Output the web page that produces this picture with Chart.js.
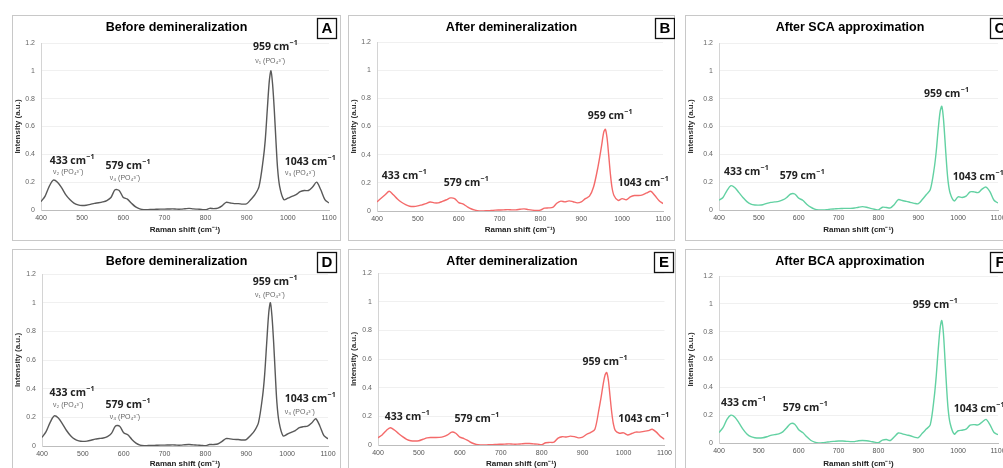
<!DOCTYPE html>
<html>
<head>
<meta charset="utf-8">
<script src="https://cdn.jsdelivr.net/npm/chart.js@4.4.1/dist/chart.umd.min.js"></script>
<style>
  body { margin: 0; background: #fff; width: 1003px; height: 468px; overflow: hidden; position: relative; }
  .panel { position: absolute; }
  .panel canvas { display: block; }
</style>
</head>
<body>
<div class="panel" id="pA"></div>
<div class="panel" id="pB"></div>
<div class="panel" id="pC"></div>
<div class="panel" id="pD"></div>
<div class="panel" id="pE"></div>
<div class="panel" id="pF"></div>
<script>
// Raman shift (cm-1), shared by every spectrum
const shift = [400,410,420,430,440,450,460,470,480,490,500,510,520,530,540,550,560,570,580,590,600,610,620,630,640,650,660,670,680,690,700,710,720,730,740,750,760,770,780,790,800,810,820,830,840,850,860,870,880,890,900,910,920,930,940,945,950,955,959,963,967,971,975,980,990,1000,1010,1020,1030,1040,1050,1060,1070,1080,1090,1100];

// A - before demineralization
const beforeA = [0.060,0.100,0.170,0.215,0.200,0.160,0.110,0.075,0.050,0.037,0.032,0.034,0.040,0.048,0.052,0.058,0.068,0.090,0.145,0.140,0.090,0.078,0.048,0.022,0.008,0.002,0.003,0.004,0.005,0.006,0.006,0.007,0.008,0.006,0.006,0.009,0.012,0.008,0.006,0.004,0.002,0.012,0.010,0.014,0.030,0.055,0.050,0.046,0.046,0.042,0.045,0.075,0.110,0.170,0.360,0.500,0.720,0.930,1.000,0.900,0.720,0.500,0.300,0.170,0.075,0.085,0.098,0.110,0.132,0.140,0.140,0.165,0.200,0.145,0.075,0.050];
// B - after demineralization
const afterB = [0.065,0.090,0.115,0.140,0.115,0.085,0.062,0.045,0.034,0.032,0.036,0.044,0.052,0.064,0.058,0.058,0.068,0.080,0.093,0.088,0.060,0.050,0.032,0.016,0.006,0.000,0.000,0.002,0.004,0.006,0.007,0.008,0.010,0.008,0.008,0.012,0.015,0.010,0.006,0.004,0.006,0.020,0.022,0.025,0.055,0.070,0.065,0.072,0.066,0.058,0.065,0.088,0.105,0.170,0.300,0.380,0.470,0.560,0.580,0.520,0.400,0.270,0.170,0.110,0.075,0.088,0.080,0.100,0.110,0.110,0.115,0.128,0.140,0.110,0.075,0.052];
// C - after SCA approximation
const scaC = [0.070,0.090,0.140,0.175,0.160,0.125,0.090,0.060,0.042,0.036,0.035,0.038,0.048,0.055,0.058,0.062,0.072,0.090,0.115,0.115,0.085,0.070,0.042,0.020,0.006,0.000,0.001,0.003,0.006,0.008,0.010,0.011,0.012,0.012,0.014,0.020,0.024,0.020,0.012,0.005,0.000,0.020,0.018,0.015,0.040,0.075,0.068,0.062,0.055,0.048,0.045,0.075,0.110,0.145,0.300,0.420,0.580,0.710,0.745,0.660,0.500,0.330,0.200,0.120,0.065,0.095,0.090,0.100,0.130,0.130,0.125,0.150,0.165,0.130,0.070,0.050];
// D - before demineralization
const beforeD = [0.060,0.100,0.165,0.210,0.195,0.155,0.108,0.072,0.048,0.036,0.032,0.034,0.040,0.048,0.052,0.056,0.066,0.088,0.140,0.138,0.092,0.078,0.046,0.020,0.006,0.002,0.003,0.004,0.005,0.006,0.006,0.007,0.008,0.006,0.006,0.009,0.010,0.008,0.006,0.004,0.002,0.010,0.010,0.014,0.030,0.052,0.050,0.046,0.045,0.042,0.045,0.072,0.105,0.165,0.350,0.500,0.720,0.930,1.000,0.900,0.720,0.500,0.300,0.170,0.070,0.082,0.095,0.108,0.128,0.135,0.138,0.160,0.190,0.140,0.072,0.050];
// E - after demineralization
const afterE = [0.050,0.070,0.100,0.120,0.105,0.080,0.058,0.040,0.030,0.028,0.030,0.040,0.050,0.052,0.052,0.053,0.058,0.070,0.090,0.082,0.055,0.045,0.030,0.014,0.004,0.000,0.000,0.002,0.002,0.004,0.005,0.006,0.008,0.006,0.006,0.008,0.010,0.010,0.008,0.006,0.002,0.016,0.018,0.020,0.048,0.058,0.056,0.062,0.058,0.050,0.055,0.075,0.088,0.110,0.250,0.330,0.420,0.490,0.505,0.450,0.340,0.230,0.150,0.100,0.082,0.085,0.070,0.080,0.090,0.090,0.095,0.100,0.110,0.090,0.060,0.040];
// F - after BCA approximation
const bcaF = [0.075,0.110,0.170,0.200,0.185,0.145,0.100,0.065,0.045,0.038,0.036,0.038,0.045,0.055,0.060,0.066,0.080,0.110,0.140,0.135,0.095,0.075,0.045,0.020,0.006,0.000,0.002,0.006,0.010,0.012,0.014,0.014,0.012,0.010,0.010,0.016,0.018,0.016,0.012,0.006,0.002,0.020,0.025,0.018,0.045,0.072,0.066,0.058,0.052,0.042,0.038,0.070,0.100,0.130,0.330,0.480,0.670,0.830,0.880,0.790,0.600,0.400,0.240,0.140,0.064,0.088,0.092,0.100,0.128,0.132,0.130,0.150,0.170,0.130,0.075,0.060];

const peakNames = ['433', '579', '959', '1043'];
const bandNames = ['\u03bd\u2082 (PO\u2084\u00b3\u207b)', '\u03bd\u2084 (PO\u2084\u00b3\u207b)', '\u03bd\u2081 (PO\u2084\u00b3\u207b)', '\u03bd\u2083 (PO\u2084\u00b3\u207b)'];

const decor = {
  id: 'decor',
  afterDraw(chart, args, o) {
    const ctx = chart.ctx;
    const w = chart.width, h = chart.height;
    const sx = chart.scales.x, sy = chart.scales.y;
    ctx.save();
    // frame
    ctx.strokeStyle = '#c8c8c8';
    ctx.lineWidth = 1;
    ctx.strokeRect(0.5, 0.5, w - 1, h - 1);
    // title
    ctx.fillStyle = '#000';
    ctx.textAlign = 'center';
    ctx.textBaseline = 'middle';
    ctx.font = 'bold 12.5px "Liberation Sans", Arial, sans-serif';
    ctx.fillText(o.title, w / 2, 13);
    // letter
    ctx.fillStyle = '#fff';
    ctx.fillRect(o.letterX, 3, 19, 20);
    ctx.strokeStyle = '#111';
    ctx.lineWidth = 1.3;
    ctx.strokeRect(o.letterX + 0.5, 3.5, 19, 20);
    ctx.fillStyle = '#000';
    ctx.font = 'bold 15px "Liberation Sans", Arial, sans-serif';
    ctx.fillText(o.letter, o.letterX + 10, 14);
    // peak labels
    o.labels.forEach((p, i) => {
      const px = sx.getPixelForValue(p[0]);
      const py = sy.getPixelForValue(p[1]);
      const main = peakNames[i] + ' cm';
      ctx.font = 'bold 10.5px "Open Sans", sans-serif';
      const w1 = ctx.measureText(main).width;
      ctx.font = 'bold 7px "Open Sans", sans-serif';
      const w2 = ctx.measureText('\u22121').width;
      const x0 = px - (w1 + w2) / 2;
      ctx.textAlign = 'left';
      ctx.fillStyle = '#222';
      ctx.font = 'bold 10.5px "Open Sans", sans-serif';
      ctx.fillText(main, x0, py);
      ctx.font = 'bold 7px "Open Sans", sans-serif';
      ctx.fillText('\u22121', x0 + w1 + 0.5, py - 4);
    });
    if (o.subs) {
      ctx.textAlign = 'center';
      ctx.fillStyle = '#666';
      ctx.font = '7px "Liberation Sans", Arial, sans-serif';
      o.subs.forEach((p, i) => {
        ctx.fillText(bandNames[i], sx.getPixelForValue(p[0]), sy.getPixelForValue(p[1]));
      });
    }
    ctx.restore();
  }
};

function makePanel(cfg) {
  const wrap = document.getElementById(cfg.id);
  const [bx, by, bw, bh] = cfg.box;
  const [pl, pt, pr, pb] = cfg.plot;
  wrap.style.left = bx + 'px';
  wrap.style.top = by + 'px';
  const canvas = document.createElement('canvas');
  canvas.width = bw;
  canvas.height = bh;
  wrap.appendChild(canvas);

  const yW = pl - bx;
  const xH = by + bh - pb;

  new Chart(canvas, {
    type: 'line',
    data: {
      datasets: [{
        data: shift.map((x, i) => ({ x: x, y: cfg.values[i] })),
        borderColor: cfg.color,
        borderWidth: 1.4,
        pointRadius: 0,
        tension: 0.3,
        fill: false
      }]
    },
    options: {
      responsive: false,
      animation: false,
      devicePixelRatio: 1,
      layout: { padding: { top: pt - by, right: bx + bw - pr, left: 0, bottom: 0 } },
      plugins: {
        legend: { display: false },
        tooltip: { enabled: false },
        decor: { title: cfg.title, letter: cfg.letter, letterX: cfg.letterX, labels: cfg.labels, subs: cfg.subs }
      },
      scales: {
        x: {
          type: 'linear',
          min: 400,
          max: 1100,
          ticks: { stepSize: 100, font: { size: 7, family: '"Liberation Sans", Arial' }, color: '#555', padding: 4, maxRotation: 0,
                   callback: v => String(v) },
          grid: { display: false, drawTicks: false },
          border: { color: '#bdbdbd' },
          title: { display: true, text: 'Raman shift (cm\u207b\u00b9)', font: { size: 8, weight: 'bold', family: '"Liberation Sans", Arial' }, color: '#222', padding: { top: 0, bottom: 6 } },
          afterFit(s) { s.height = xH; }
        },
        y: {
          min: 0,
          max: 1.2,
          ticks: { stepSize: 0.2, font: { size: 7, family: '"Liberation Sans", Arial' }, color: '#666', padding: 6,
                   callback: v => String(Math.round(v * 10) / 10) },
          grid: { color: '#f0f0f0', drawTicks: false },
          border: { color: '#d4d4d4' },
          title: { display: true, text: 'Intensity (a.u.)', font: { size: 8, weight: 'bold', family: '"Liberation Sans", Arial' }, color: '#333', padding: { top: 1, bottom: 0 } },
          afterFit(s) { s.width = yW; }
        }
      }
    },
    plugins: [decor]
  });
}

const grey = '#595959', red = '#f46a6a', green = '#62d1a2';

makePanel({ id: 'pA', box: [12, 15, 329, 226], plot: [41, 43, 329, 210], values: beforeA, color: grey,
  title: 'Before demineralization', letter: 'A', letterX: 305,
  labels: [[475, 0.352], [611, 0.316], [969, 1.171], [1054, 0.345]],
  subs: [[466, 0.273], [604, 0.230], [957, 1.071], [1030, 0.266]] });
makePanel({ id: 'pB', box: [348, 15, 327, 226], plot: [377, 42, 663, 211], values: afterB, color: red,
  title: 'After demineralization', letter: 'B', letterX: 307,
  labels: [[466, 0.249], [618, 0.199], [970, 0.675], [1051, 0.199]] });
makePanel({ id: 'pC', box: [685, 15, 330, 226], plot: [719, 43, 998, 210], values: scaC, color: green,
  title: 'After SCA approximation', letter: 'C', letterX: 305,
  labels: [[468, 0.273], [608, 0.244], [970, 0.834], [1050, 0.237]] });
makePanel({ id: 'pD', box: [12, 249, 329, 226], plot: [42, 274, 328, 446], values: beforeD, color: grey,
  title: 'Before demineralization', letter: 'D', letterX: 305,
  labels: [[473, 0.370], [610, 0.286], [970, 1.144], [1056, 0.328]],
  subs: [[464, 0.286], [603, 0.202], [958, 1.053], [1031, 0.237]] });
makePanel({ id: 'pE', box: [348, 249, 328, 226], plot: [378, 273, 665, 445], values: afterE, color: red,
  title: 'After demineralization', letter: 'E', letterX: 306,
  labels: [[471, 0.195], [641, 0.181], [954, 0.579], [1049, 0.181]] });
makePanel({ id: 'pF', box: [685, 249, 330, 226], plot: [719, 276, 998, 443], values: bcaF, color: green,
  title: 'After BCA approximation', letter: 'F', letterX: 305,
  labels: [[461, 0.287], [616, 0.251], [942, 0.992], [1052, 0.244]] });
</script>
</body>
</html>
